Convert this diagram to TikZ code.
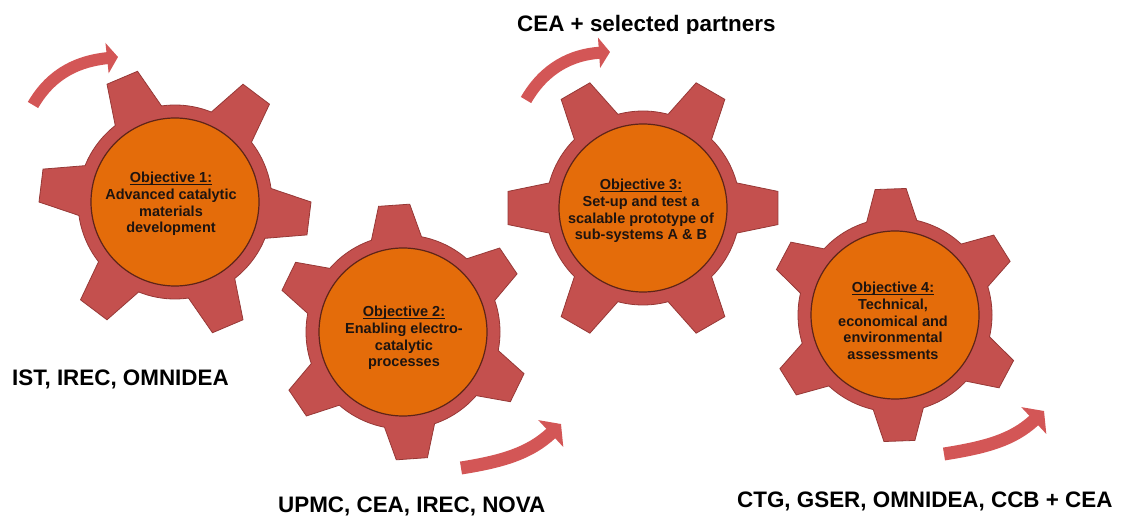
\documentclass[tikz,border=0pt]{standalone}
\usepackage{fontspec}
\setmainfont{Liberation Sans}
\usetikzlibrary{arrows.meta}
\definecolor{gearred}{HTML}{C4504E}
\definecolor{gearline}{HTML}{963836}
\definecolor{arrowred}{HTML}{D35656}
\definecolor{core}{HTML}{E46C0A}
\definecolor{coreline}{HTML}{5E2418}
\definecolor{txt}{HTML}{1E1410}
\newcommand\objul[1]{\setbox0\hbox{#1}\rlap{\rule[-1.9pt]{\wd0}{1.1pt}}\box0}
\begin{document}
\begin{tikzpicture}[x=1pt,y=1pt,
  pics/gear/.style 2 args={code={
    \fill[gearred, draw=gearline, line width=0.8pt] ({#1-15}:97pt)
      \foreach \k in {0,...,5} {
        -- ({#1+60*\k-7}:#2pt) -- ({#1+60*\k+7}:#2pt) -- ({#1+60*\k+15}:97pt)
        arc[start angle={#1+60*\k+15}, end angle={#1+60*\k+45}, radius=97pt]
      } -- cycle;
    \filldraw[fill=core, draw=coreline, line width=1.2pt] (0,0) circle[radius=84pt];
  }},
  objtext/.style={align=center, text=txt, inner sep=0pt,
    font=\fontsize{14.5}{16.6}\selectfont\bfseries},
  partner/.style={anchor=base west, inner sep=0pt, text=black,
    font=\fontsize{22.4}{26}\selectfont\bfseries},
  bigarrow/.style n args={3}{draw=arrowred, line width=#1pt,
    -{Triangle[width=#2pt, length=#3pt]}}
]
\useasboundingbox[fill=white] (0,0) rectangle (1121,517);

% gears
\pic at (175,315) {gear={53}{136}};
\pic at (403,185) {gear={34}{128}};
\pic at (643,309) {gear={0}{136}};
\pic at (895,202) {gear={32}{127}};

% objective texts
\node[objtext] (o1) at (171,313) {\objul{Objective 1:}\\Advanced catalytic\\materials\\development};
\node[objtext] (o2) at (404,179) {\objul{Objective 2:}\\Enabling electro-\\catalytic\\processes};
\node[objtext] (o3) at (641,306) {\objul{Objective 3:}\\Set-up and test a\\scalable prototype of\\sub-systems A \& B};
\node[objtext] (o4) at (893,196) {\objul{Objective 4:}\\Technical,\\economical and\\environmental\\assessments};

% rotation arrows
\coordinate (a1s) at (33,412);   \coordinate (a1e) at (118,460);
\coordinate (a2s) at (461,49);   \coordinate (a2e) at (561,93);
\coordinate (a3s) at (526,417);  \coordinate (a3e) at (610,465);
\coordinate (a4s) at (944,63);   \coordinate (a4e) at (1044,106);
\draw[bigarrow={12}{30}{11}] (a1s) to[out=60,in=186] (a1e);
\draw[bigarrow={13}{36}{14}] (a2s) to[out=9,in=223] (a2e);
\draw[bigarrow={12}{30}{11}] (a3s) to[out=60,in=184] (a3e);
\draw[bigarrow={13}{36}{14}] (a4s) to[out=9,in=223] (a4e);

% partner labels
\node[partner] (p1) at (12,132) {IST, IREC, OMNIDEA};
\node[partner] (p2) at (278,5) {UPMC, CEA, IREC, NOVA};
\node[partner] (p4) at (737,10) {CTG, GSER, OMNIDEA, CCB + CEA};
\begin{scope}
  \clip (500,483.5) rectangle (800,517);
  \node[partner] (p3) at (517,485) {CEA + selected partners};
\end{scope}
\end{tikzpicture}
\end{document}
